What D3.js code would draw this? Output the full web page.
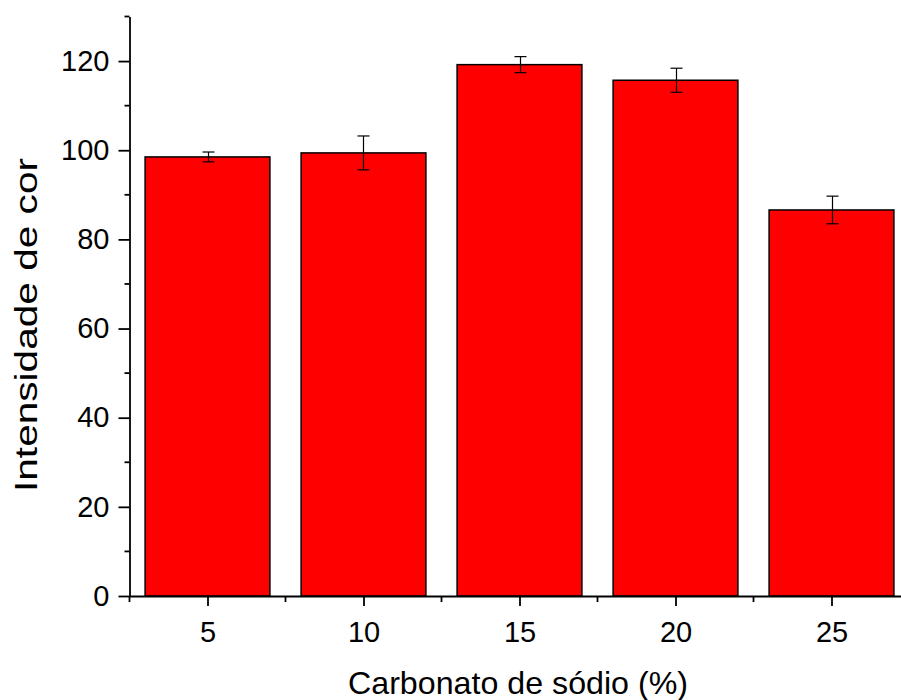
<!DOCTYPE html>
<html>
<head>
<meta charset="utf-8">
<script src="https://cdn.jsdelivr.net/npm/d3@7"></script>
<style>
  html, body { margin: 0; padding: 0; background: #fff; overflow: hidden; }
  text { font-family: "Liberation Sans", Arial, sans-serif; fill: #000; }
</style>
</head>
<body>
<svg id="chart" width="901" height="700"></svg>
<script>
const categories = [5, 10, 15, 20, 25];
const values = [98.5, 99.4, 119.2, 115.7, 86.6];
const errors = [1.1, 3.8, 1.8, 2.7, 3.1];
const yTicks = [0, 20, 40, 60, 80, 100, 120];
const xTicks = [5, 10, 15, 20, 25];
const xTitle = "Carbonato de sódio (%)";
const yTitle = "Intensidade de cor";

const svg = d3.select("#chart");
const x = d3.scaleLinear().domain([2.5, 27.5]).range([129.5, 909.5]);
const y = d3.scaleLinear().domain([0, 130]).range([596, 16.5]);
const barHalf = 2;
const FONT = "Liberation Sans, Arial, sans-serif";

// bars
svg.append("g").selectAll("rect").data(categories).join("rect")
  .attr("x", d => x(d - barHalf))
  .attr("width", d => x(d + barHalf) - x(d - barHalf))
  .attr("y", (d, i) => y(values[i]))
  .attr("height", (d, i) => y(0) - y(values[i]))
  .attr("fill", "#ff0000")
  .attr("stroke", "#000")
  .attr("stroke-width", 1.5);

// error bars
const eb = svg.append("g").attr("stroke", "#000").attr("stroke-width", 1.2);
categories.forEach((c, i) => {
  const cx = Math.round(x(c)) + 0.5;
  const top = y(values[i] + errors[i]), bot = y(values[i] - errors[i]);
  eb.append("line").attr("x1", cx).attr("x2", cx).attr("y1", top).attr("y2", bot);
  eb.append("line").attr("x1", cx - 6).attr("x2", cx + 6).attr("y1", top).attr("y2", top);
  eb.append("line").attr("x1", cx - 6).attr("x2", cx + 6).attr("y1", bot).attr("y2", bot);
});

// y axis
const yMinor = d3.range(10, 131, 20);
const yAxis = svg.append("g").attr("transform", `translate(${x(2.5)},0)`);
yAxis.call(d3.axisLeft(y).tickValues(yTicks).tickSize(11).tickPadding(9).tickSizeOuter(0))
  .call(g => g.select(".domain").attr("stroke-width", 1.8))
  .call(g => g.selectAll(".tick line").attr("stroke-width", 1.8))
  .call(g => g.selectAll(".tick text").attr("font-size", 29).attr("font-family", FONT));
yAxis.append("g").selectAll("line").data(yMinor).join("line")
  .attr("x1", 0).attr("x2", -5).attr("y1", d => y(d)).attr("y2", d => y(d))
  .attr("stroke", "#000").attr("stroke-width", 1.8);

// x axis
const xMinor = d3.range(2.5, 28, 5);
const xAxis = svg.append("g").attr("transform", `translate(0,${y(0)})`);
xAxis.call(d3.axisBottom(x).tickValues(xTicks).tickSize(10).tickPadding(15).tickSizeOuter(0))
  .call(g => g.select(".domain").attr("stroke-width", 1.8))
  .call(g => g.selectAll(".tick line").attr("stroke-width", 1.8))
  .call(g => g.selectAll(".tick text").attr("font-size", 29).attr("font-family", FONT));
xAxis.append("g").selectAll("line").data(xMinor).join("line")
  .attr("x1", d => x(d)).attr("x2", d => x(d)).attr("y1", 0).attr("y2", 6)
  .attr("stroke", "#000").attr("stroke-width", 1.8);

// titles
svg.append("text")
  .attr("x", 518).attr("y", 694)
  .attr("text-anchor", "middle").attr("font-size", 32)
  .attr("textLength", 340).attr("lengthAdjust", "spacingAndGlyphs")
  .text(xTitle);
svg.append("text")
  .attr("transform", `translate(37,325) rotate(-90)`)
  .attr("text-anchor", "middle").attr("font-size", 32)
  .attr("textLength", 334).attr("lengthAdjust", "spacingAndGlyphs")
  .text(yTitle);
</script>
</body>
</html>
